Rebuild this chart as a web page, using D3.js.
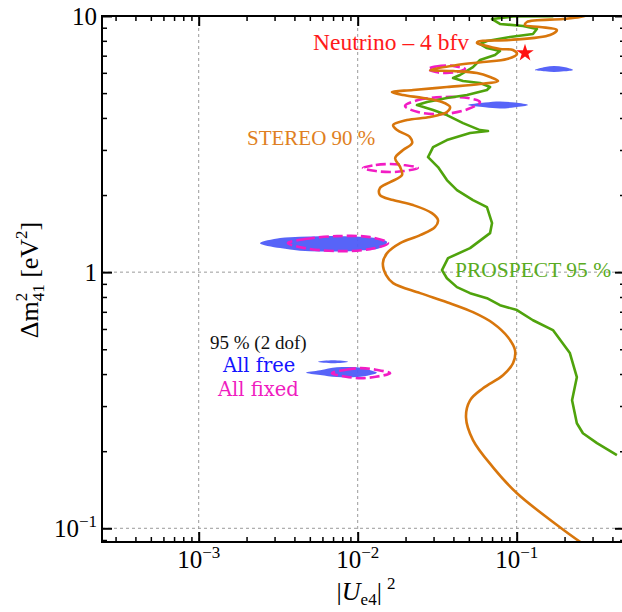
<!DOCTYPE html>
<html>
<head>
<meta charset="utf-8">
<script src="https://cdn.jsdelivr.net/npm/d3@7"></script>
<style>
  body { margin: 0; background: #fff; }
  svg { display: block; }
</style>
</head>
<body>
<script>
"use strict";

// contours as [|Ue4|^2, dm41^2] pairs (bottom -> top)
var stereo = [[0.275,0.085],[0.187,0.101],[0.1004,0.137],[0.071,0.173],[0.0531,0.221],[0.048,0.271],
  [0.0509,0.316],[0.0614,0.352],[0.082,0.396],[0.0948,0.441],[0.0976,0.496],[0.0882,0.557],[0.071,0.632],
  [0.0531,0.698],[0.0364,0.763],[0.0247,0.828],[0.0167,0.906],[0.0151,0.973],[0.0144,1.084],[0.0153,1.186],
  [0.0185,1.298],[0.0247,1.395],[0.0306,1.499],[0.032,1.596],[0.0293,1.70],[0.0223,1.827],[0.0167,1.911],
  [0.0138,2.0],[0.0138,2.129],[0.016,2.247],[0.019,2.393],[0.0185,2.572],[0.0172,2.788],[0.0193,2.996],
  [0.022,3.19],[0.0213,3.368],[0.0177,3.586],[0.0167,3.751],[0.0204,3.925],[0.0285,4.032],[0.0364,4.217],
  [0.0381,4.411],[0.0339,4.614],[0.0258,4.783],[0.0193,4.914],[0.0164,5.049],[0.0223,5.14],[0.0364,5.281],
  [0.0588,5.426],[0.0763,5.574],[0.068,5.777],[0.0563,5.989],[0.0398,6.098],[0.0285,6.153],[0.0421,6.436],
  [0.0614,6.612],[0.0869,6.79],[0.1004,7.106],[0.0948,7.367],[0.0785,7.432],[0.0614,7.704],[0.0563,7.844],
  [0.0571,7.95],[0.0908,8.06],[0.162,8.43],[0.179,8.818],[0.140,9.06],[0.1128,9.22],[0.116,9.475],
  [0.1955,9.73],[0.25,9.91],[0.28,10.1]];

var prospect = [[0.427,0.193],[0.32,0.215],[0.261,0.235],[0.239,0.257],[0.223,0.316],[0.239,0.389],
  [0.216,0.483],[0.169,0.594],[0.1266,0.649],[0.1004,0.711],[0.0785,0.743],[0.065,0.791],[0.0509,0.828],
  [0.0421,0.874],[0.0364,0.947],[0.0339,1.018],[0.037,1.134],[0.0509,1.241],[0.068,1.42],[0.070,1.554],
  [0.065,1.794],[0.0531,1.911],[0.0421,2.091],[0.0364,2.288],[0.032,2.572],[0.0277,2.813],[0.0298,3.078],
  [0.0364,3.278],[0.0509,3.491],[0.066,3.554],[0.0588,3.586],[0.046,3.819],[0.0364,4.105],[0.0298,4.293],
  [0.0236,4.49],[0.0273,4.614],[0.0364,4.783],[0.0487,4.914],[0.065,5.14],[0.068,5.281],[0.0588,5.475],
  [0.046,5.574],[0.0398,5.725],[0.044,5.883],[0.0531,6.32],[0.0588,6.733],[0.073,7.04],[0.0785,7.30],
  [0.065,7.499],[0.0588,7.774],[0.065,7.987],[0.0908,8.279],[0.1266,8.505],[0.134,8.896],[0.1096,9.14],
  [0.0785,9.31],[0.070,9.73],[0.095,9.95],[0.17,9.98]];

// 95% (2 dof) allowed islands, all systematics free (filled)
var freeIslands = [
  [[2.43e-3,1.298],[3.25e-3,1.358],[4.34e-3,1.376],[5.8e-3,1.382],[7.74e-3,1.382],[10.3e-3,1.376],
   [12.9e-3,1.358],[15.3e-3,1.31],[13.8e-3,1.241],[10.3e-3,1.213],[7.74e-3,1.203],[5.8e-3,1.203],
   [4.34e-3,1.213],[3.25e-3,1.241]],
  [[4.73e-3,0.405],[5.8e-3,0.414],[7.4e-3,0.425],[9.9e-3,0.425],[12e-3,0.414],[13.2e-3,0.405],
   [12e-3,0.397],[9.9e-3,0.390],[7.4e-3,0.390],[5.8e-3,0.397]],
  [[5.63e-3,0.447],[7e-3,0.453],[8.7e-3,0.447],[7e-3,0.441]],
  [[0.0494,4.49],[0.0632,4.59],[0.0785,4.634],[0.0976,4.59],[0.118,4.49],[0.0976,4.40],[0.0785,4.352],
   [0.0632,4.40]],
  [[0.130,6.15],[0.151,6.32],[0.172,6.38],[0.198,6.32],[0.226,6.16],[0.198,6.08],[0.172,6.04],[0.151,6.08]]
];

// same, all systematics fixed (dashed)
var fixedIslands = [
  [[3.64e-3,1.298],[4.66e-3,1.346],[7.41e-3,1.382],[11.95e-3,1.37],[15.5e-3,1.298],[11.95e-3,1.23],
   [7.41e-3,1.208],[4.66e-3,1.241]],
  [[6.89e-3,0.403],[8.44e-3,0.416],[10.5e-3,0.422],[13e-3,0.416],[16e-3,0.403],[13e-3,0.3905],
   [10.5e-3,0.3855],[8.44e-3,0.3905]],
  [[10.8e-3,2.55],[13e-3,2.62],[16e-3,2.642],[19.5e-3,2.62],[23.9e-3,2.55],[19.5e-3,2.481],
   [16e-3,2.459],[13e-3,2.481]],
  [[19.84e-3,4.451],[23.94e-3,4.698],[34.4e-3,4.826],[49.4e-3,4.783],[58.8e-3,4.614],[49.4e-3,4.331],
   [34.4e-3,4.142],[23.94e-3,4.217]],
  [[0.0277,6.21],[0.0311,6.35],[0.0359,6.41],[0.0415,6.35],[0.0473,6.21],[0.0415,6.04],[0.0359,5.99],
   [0.0311,6.04]]
];

var bestFit = [0.1128, 7.17];

var xMajor = [1e-3, 1e-2, 1e-1];
var xTickLabels = [["10", "\u22123"], ["10", "\u22122"], ["10", "\u22121"]];
var yMajor = [0.1, 1, 10];
var yTickLabels = [["10", "\u22121"], ["1", ""], ["10", ""]];

var W = 622, H = 612;
var pLeft = 102, pRight = 625, pTop = 16, pBottom = 542;
var serif = "'Liberation Serif', 'Times New Roman', serif";

var x = d3.scaleLog().domain([2.465e-4, 0.48]).range([pLeft, pRight]);
var y = d3.scaleLog().domain([0.0884, 10]).range([pBottom, pTop]);

var svg = d3.select("body").append("svg")
  .attr("width", W).attr("height", H)
  .style("font-family", serif);

svg.append("clipPath").attr("id", "plotclip")
  .append("rect").attr("x", pLeft).attr("y", pTop)
  .attr("width", pRight - pLeft).attr("height", pBottom - pTop);

// grid
var grid = svg.append("g").attr("stroke", "#9a9a9a").attr("stroke-width", 1)
  .attr("stroke-dasharray", "3,3");
grid.selectAll("line.v").data(xMajor).enter().append("line")
  .attr("x1", d => x(d)).attr("x2", d => x(d)).attr("y1", pTop).attr("y2", pBottom);
grid.selectAll("line.h").data(yMajor.filter(d => d < 10)).enter().append("line")
  .attr("y1", d => y(d)).attr("y2", d => y(d)).attr("x1", pLeft).attr("x2", pRight);

var plot = svg.append("g").attr("clip-path", "url(#plotclip)");

var islandPath = d3.line().x(d => x(d[0])).y(d => y(d[1])).curve(d3.curveCatmullRomClosed.alpha(0.5));

plot.selectAll("path.free").data(freeIslands).enter().append("path")
  .attr("d", islandPath).attr("fill", "#4e5cf8").attr("fill-opacity", 0.95).attr("stroke", "none");

plot.selectAll("path.fixed").data(fixedIslands).enter().append("path")
  .attr("d", islandPath).attr("fill", "none").attr("stroke", "#f21cc4")
  .attr("stroke-width", 2.6).attr("stroke-dasharray", "10,4");

plot.append("path").datum(prospect)
  .attr("d", d3.line().x(d => x(d[0])).y(d => y(d[1])))
  .attr("fill", "none").attr("stroke", "#4fa30c").attr("stroke-width", 2.6)
  .attr("stroke-linejoin", "round");

plot.append("path").datum(stereo)
  .attr("d", d3.line().x(d => x(d[0])).y(d => y(d[1])).curve(d3.curveCatmullRom.alpha(0.5)))
  .attr("fill", "none").attr("stroke", "#d8760c").attr("stroke-width", 2.6)
  .attr("stroke-linejoin", "round");

plot.append("path")
  .attr("d", d3.symbol(d3.symbolStar, 95)())
  .attr("transform", "translate(" + x(bestFit[0]) + "," + y(bestFit[1]) + ")")
  .attr("fill", "#ff1212");

// frame + ticks (all pointing inward)
var isMinor = d => Math.abs(Math.log10(d) - Math.round(Math.log10(d))) > 1e-6;
var xMinor = x.ticks().filter(isMinor);
var yMinor = y.ticks().filter(isMinor);

function styleAxis(g, w) {
  g.select(".domain").remove();
  g.selectAll("line").attr("stroke", "#000").attr("stroke-width", w);
}
function addTicks(axisFn, scale, shift, majors, minors) {
  svg.append("g").attr("transform", shift)
    .call(axisFn(scale).tickValues(majors).tickSize(-10).tickFormat(""))
    .call(g => styleAxis(g, 2));
  svg.append("g").attr("transform", shift)
    .call(axisFn(scale).tickValues(minors).tickSize(-5).tickFormat(""))
    .call(g => styleAxis(g, 1.5));
}
addTicks(d3.axisBottom, x, "translate(0," + pBottom + ")", xMajor, xMinor);
addTicks(d3.axisTop, x, "translate(0," + pTop + ")", xMajor, xMinor);
addTicks(d3.axisLeft, y, "translate(" + pLeft + ",0)", yMajor, yMinor);
addTicks(d3.axisRight, y, "translate(" + pRight + ",0)", yMajor, yMinor);

svg.append("rect").attr("x", pLeft).attr("y", pTop)
  .attr("width", pRight - pLeft).attr("height", pBottom - pTop)
  .attr("fill", "none").attr("stroke", "#000").attr("stroke-width", 2);

// tick labels
xMajor.forEach(function(v, i) {
  var t = svg.append("text").attr("x", x(v)).attr("y", 568)
    .attr("text-anchor", "middle").attr("font-size", 25);
  t.append("tspan").text(xTickLabels[i][0]);
  t.append("tspan").attr("dy", -10).attr("font-size", 17).text(xTickLabels[i][1]);
});
yMajor.forEach(function(v, i) {
  var t = svg.append("text").attr("x", 97).attr("y", y(v) + 9)
    .attr("text-anchor", "end").attr("font-size", 25);
  t.append("tspan").text(yTickLabels[i][0]);
  if (yTickLabels[i][1]) t.append("tspan").attr("dy", -10).attr("font-size", 17).text(yTickLabels[i][1]);
});

// axis titles
var xt = svg.append("text").attr("x", 366).attr("y", 600)
  .attr("text-anchor", "middle").attr("font-size", 26);
xt.append("tspan").text("|");
xt.append("tspan").attr("font-style", "italic").text("U");
xt.append("tspan").attr("font-size", 17).attr("dy", 5).text("e4");
xt.append("tspan").attr("dy", -5).text("|");
xt.append("tspan").attr("font-size", 17).attr("dx", 5).attr("dy", -11).text("2");

var yt = svg.append("text").attr("transform", "translate(38,280) rotate(-90)")
  .attr("text-anchor", "middle").attr("font-size", 26);
yt.append("tspan").text("\u0394m");
yt.append("tspan").attr("font-size", 17).attr("dy", -11).text("2");
yt.append("tspan").attr("font-size", 17).attr("dx", -8.5).attr("dy", 17).text("41");
yt.append("tspan").attr("dy", -6).text(" [eV");
yt.append("tspan").attr("font-size", 17).attr("dy", -11).text("2");
yt.append("tspan").attr("dy", 11).text("]");

// annotations
function label(txt, px, py, size, color, font) {
  svg.append("text").attr("x", px).attr("y", py).attr("font-size", size)
    .attr("fill", color).style("font-family", font || serif).text(txt);
}
label("Neutrino \u2013 4 bfv", 313, 50, 23.5, "#ff1a1a");
label("STEREO 90 %", 247, 145, 21, "#df7f22");
label("PROSPECT 95 %", 455, 277, 21.5, "#5aab22");
label("95 % (2 dof)", 210, 349, 19, "#111");
label("All free", 223, 372, 19.5, "#1414ff", "'DejaVu Serif', serif");
label("All fixed", 218, 396, 19.5, "#f01cc0", "'DejaVu Serif', serif");
</script>
</body>
</html>
